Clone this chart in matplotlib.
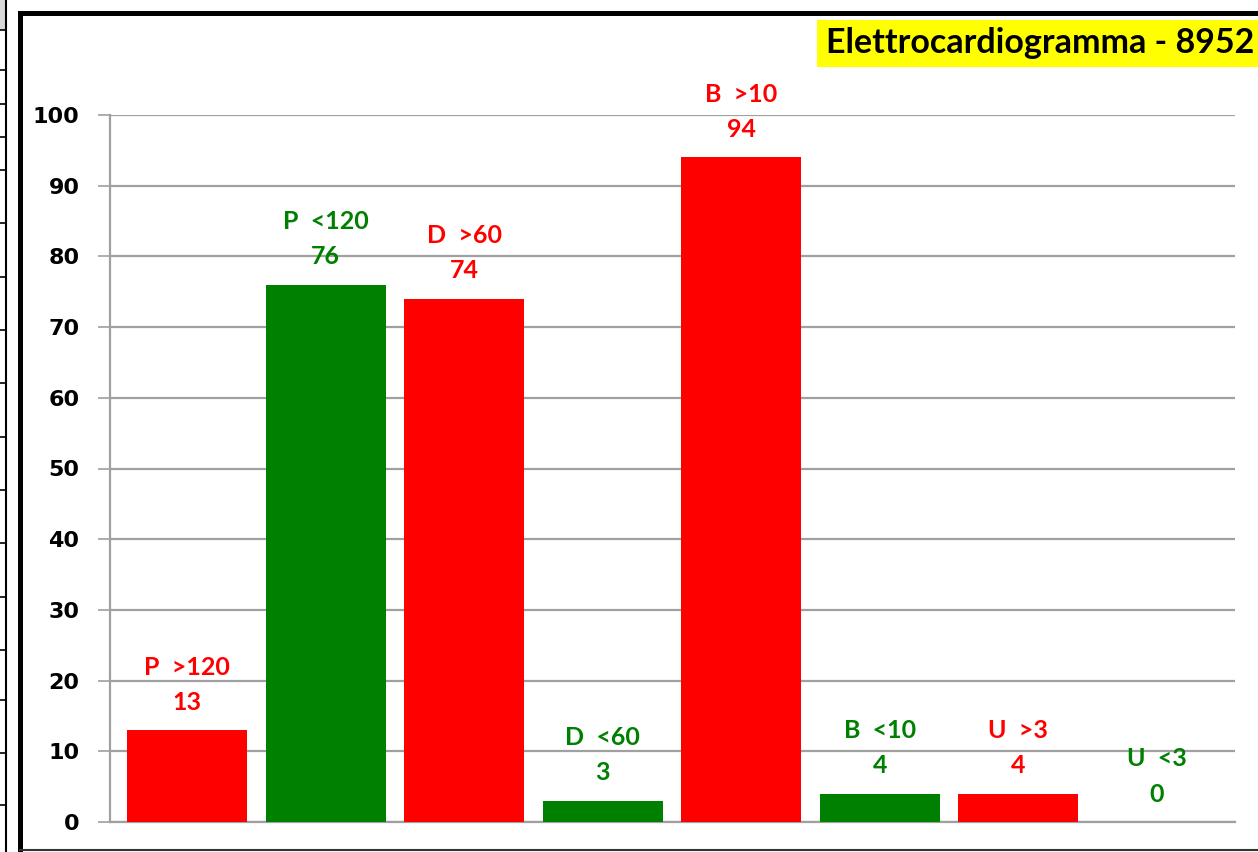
import matplotlib
matplotlib.use("Agg")
import matplotlib.pyplot as plt
from matplotlib.lines import Line2D
from matplotlib.patches import Rectangle

# ECG exam results per parameter
categories = ["P  >120", "P  <120", "D  >60", "D  <60", "B  >10", "B  <10", "U  >3", "U  <3"]
values = [13, 76, 74, 3, 94, 4, 4, 0]
bar_colors = ["#ff0000", "#008000", "#ff0000", "#008000", "#ff0000", "#008000", "#ff0000", "#008000"]
yticks = [0, 10, 20, 30, 40, 50, 60, 70, 80, 90, 100]
title = "Elettrocardiogramma - 8952"

W, H = 1258, 852
fig = plt.figure(figsize=(W / 100, H / 100), dpi=100)


def px(x, y):
    # pixel position from top-left -> figure fraction
    return x / W, 1 - y / H


# outer frame of the sheet
fig.add_artist(Line2D([20 / W, 20 / W], [px(0, 13)[1], px(0, 850)[1]], color="black", lw=3.6))
fig.add_artist(Line2D([20 / W, 1], [px(0, 13)[1]] * 2, color="black", lw=3.6))
fig.add_artist(Line2D([20 / W, 1], [px(0, 850)[1]] * 2, color="#333333", lw=1.5))

# strip of the neighbouring table on the far left
fig.add_artist(Rectangle((0, px(0, 30)[1]), 6 / W, 30 / H, color="#d9d9d9", lw=0))
fig.add_artist(Line2D([6 / W, 6 / W], [0, 1], color="black", lw=1.5))
for yy in [30, 70, 104, 137, 170, 223, 277, 330, 383, 437, 490, 543, 597, 650, 700, 753, 805]:
    fig.add_artist(Line2D([0, 6 / W], [px(0, yy)[1]] * 2, color="black", lw=1.2))

ax = fig.add_axes([110 / W, 30 / H, (1235 - 110) / W, (822 - 115) / H])
x = list(range(len(categories)))
ax.bar(x, values, width=0.866, color=bar_colors, zorder=3)

for xi, v, lab, c in zip(x, values, categories, bar_colors):
    ax.annotate(lab, (xi, v), xytext=(0, 63), textcoords="offset pixels",
                ha="center", va="center", color=c, fontsize=18,
                fontweight="bold", family="Lato", annotation_clip=False)
    ax.annotate(str(v), (xi, v), xytext=(0, 28), textcoords="offset pixels",
                ha="center", va="center", color=c, fontsize=18,
                fontweight="bold", family="Lato", annotation_clip=False)

ax.set_xlim(-0.556, 7.563)
ax.set_ylim(0, 100)
ax.set_yticks(yticks)
ax.set_yticklabels([str(t) for t in yticks], fontsize=16, fontweight="bold", family="DejaVu Sans")
ax.set_xticks([])
ax.yaxis.grid(True, color="#a0a0a0", lw=1.6, zorder=0)
ax.tick_params(axis="y", direction="out", length=9, width=1.2, color="#a0a0a0", pad=13)
for side in ["top", "right"]:
    ax.spines[side].set_visible(False)
ax.spines["left"].set_color("#a0a0a0")
ax.spines["left"].set_linewidth(1.6)
ax.spines["bottom"].set_color("#a0a0a0")
ax.spines["bottom"].set_linewidth(1.6)

# title box in the top right corner
fig.add_artist(Rectangle((817 / W, px(0, 67)[1]), (W - 817) / W, 47 / H, color="#ffff00", lw=0))
fig.text(826 / W, px(0, 43)[1], title, ha="left", va="center", fontsize=24.5,
         fontweight="bold", family="Lato", color="black")

fig.savefig("out.png", dpi=100)
